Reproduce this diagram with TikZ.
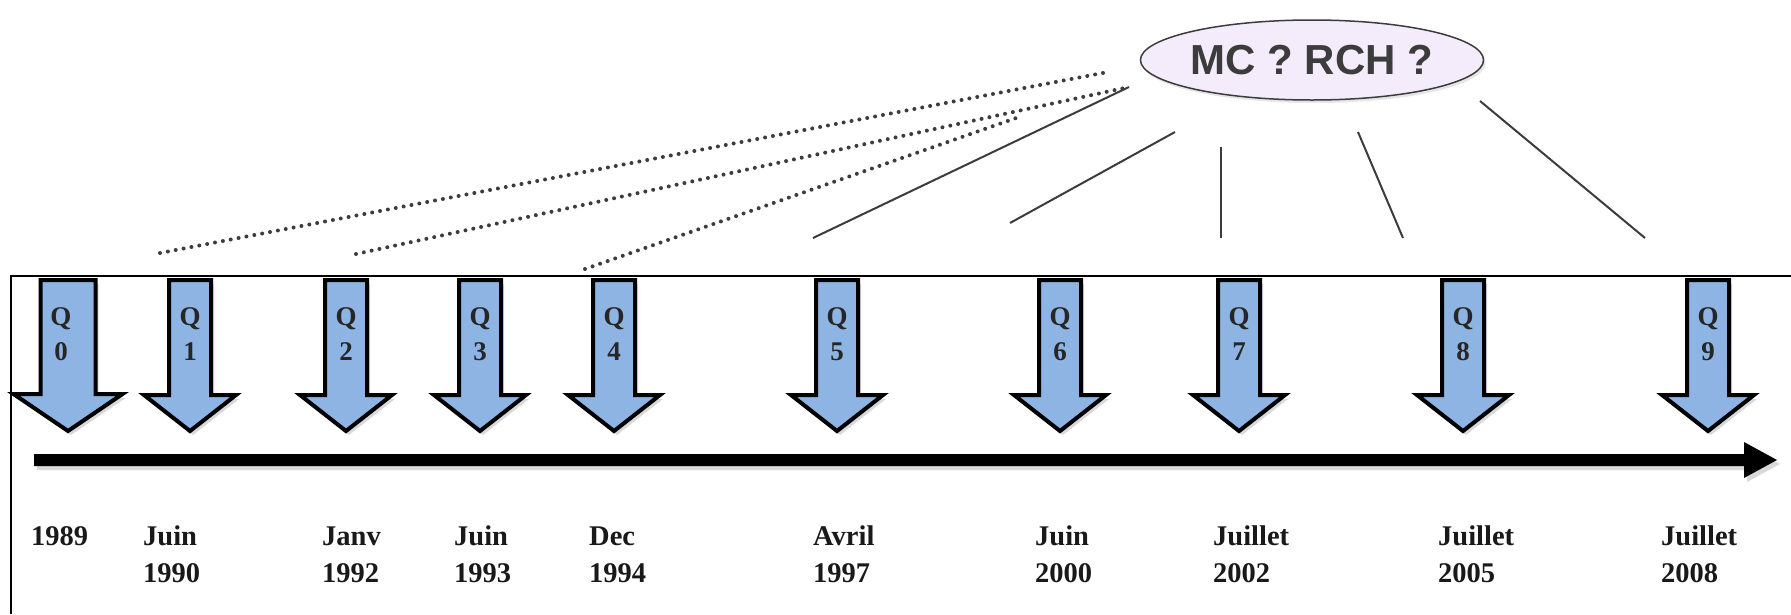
\documentclass[tikz,border=0pt]{standalone}
\usepackage{fontspec}
\setmainfont{Liberation Serif}
\newfontfamily\mcsans{Liberation Sans}
\usetikzlibrary{shapes.geometric,shadows}
\definecolor{qblue}{RGB}{142,180,227}
\definecolor{lav}{RGB}{245,236,251}
\definecolor{ink}{RGB}{60,60,60}
\begin{document}
\begin{tikzpicture}[x=1pt,y=-1pt,
  qbody/.style={fill=qblue,draw=black,line width=4pt,line join=miter,drop shadow={shadow xshift=3pt,shadow yshift=-4pt,opacity=0.3}},
  qtxt/.style={font=\bfseries\fontsize{27}{30}\selectfont,text=black!85,inner sep=0pt,anchor=base},
  datetxt/.style={font=\bfseries\fontsize{28.5}{32}\selectfont,text=black!90,inner sep=0pt,anchor=base west},
  link/.style={draw=ink,line width=2pt},
  dotlink/.style={draw=ink,line width=4pt,line cap=round,dash pattern=on 0pt off 8pt},
  frameline/.style={draw=black,line width=1.5pt},
  bubble/.style={draw=ink,line width=1.5pt,fill=lav,ellipse,minimum width=328pt,minimum height=80pt,inner sep=0pt,
    font=\mcsans\bfseries\fontsize{42}{48}\selectfont,text=ink,drop shadow={shadow xshift=2pt,shadow yshift=-3pt,opacity=0.2}}
]
\useasboundingbox (0,0) rectangle (1791,614);
% frame
\coordinate (ftl) at (11,276);
\coordinate (ftr) at (1791,276);
\coordinate (fbl) at (11,614);
\draw[frameline] (ftr) -- (ftl) -- (fbl);
% timeline
\path[fill=black,drop shadow={shadow xshift=3pt,shadow yshift=-4pt,opacity=0.3}]
  (34,454) -- (1744,454) -- (1744,442) -- (1777,460) -- (1744,478) -- (1744,466) -- (34,466) -- cycle;
% Q0 (larger)
\path[qbody] (68-27.5,280) -- (68+27.5,280) -- (68+27.5,394) -- (68+54.5,394) -- (68,431)
  -- (68-54.5,394) -- (68-27.5,394) -- cycle;
\node[qtxt] (q0) at (61,325) {Q};
\node[qtxt] (d0) at (61,360) {0};
% Q1..Q9
\foreach \x/\n in {190/1,346/2,480/3,614/4,837/5,1060/6,1239/7,1463/8,1708/9}{
  \path[qbody] (\x-21,280) -- (\x+21,280) -- (\x+21,395) -- (\x+46,395) -- (\x,431)
    -- (\x-46,395) -- (\x-21,395) -- cycle;
  \node[qtxt] (q\n) at (\x,325) {Q};
  \node[qtxt] (d\n) at (\x,360) {\n};
}
% dates
\node[datetxt] (t0) at (31,545) {1989};
\foreach \x/\m/\y/\k in {143/Juin/1990/1,322/Janv/1992/2,454/Juin/1993/3,589/Dec/1994/4,
  813/Avril/1997/5,1035/Juin/2000/6,1213/Juillet/2002/7,1438/Juillet/2005/8,1661/Juillet/2008/9}{
  \node[datetxt] (m\k) at (\x,545) {\m};
  \node[datetxt] (y\k) at (\x,582) {\y};
}
% bubble
\node[bubble] (mc) at (1312,60) {MC ? RCH ?};
% connectors
\coordinate (a1s) at (160,253); \coordinate (a1e) at (1108,72);
\coordinate (a2s) at (356,254); \coordinate (a2e) at (1129,87);
\coordinate (a3s) at (585,269); \coordinate (a3e) at (1019,117);
\draw[dotlink] (a1s) -- (a1e);
\draw[dotlink] (a2s) -- (a2e);
\draw[dotlink] (a3s) -- (a3e);
\coordinate (b1s) at (813,238);  \coordinate (b1e) at (1129,87);
\coordinate (b2s) at (1010,223); \coordinate (b2e) at (1175,132);
\coordinate (b3s) at (1221,238); \coordinate (b3e) at (1221,147);
\coordinate (b4s) at (1403,238); \coordinate (b4e) at (1358,132);
\coordinate (b5s) at (1645,238); \coordinate (b5e) at (1480,101);
\draw[link] (b1s) -- (b1e);
\draw[link] (b2s) -- (b2e);
\draw[link] (b3s) -- (b3e);
\draw[link] (b4s) -- (b4e);
\draw[link] (b5s) -- (b5e);
\end{tikzpicture}
\end{document}
